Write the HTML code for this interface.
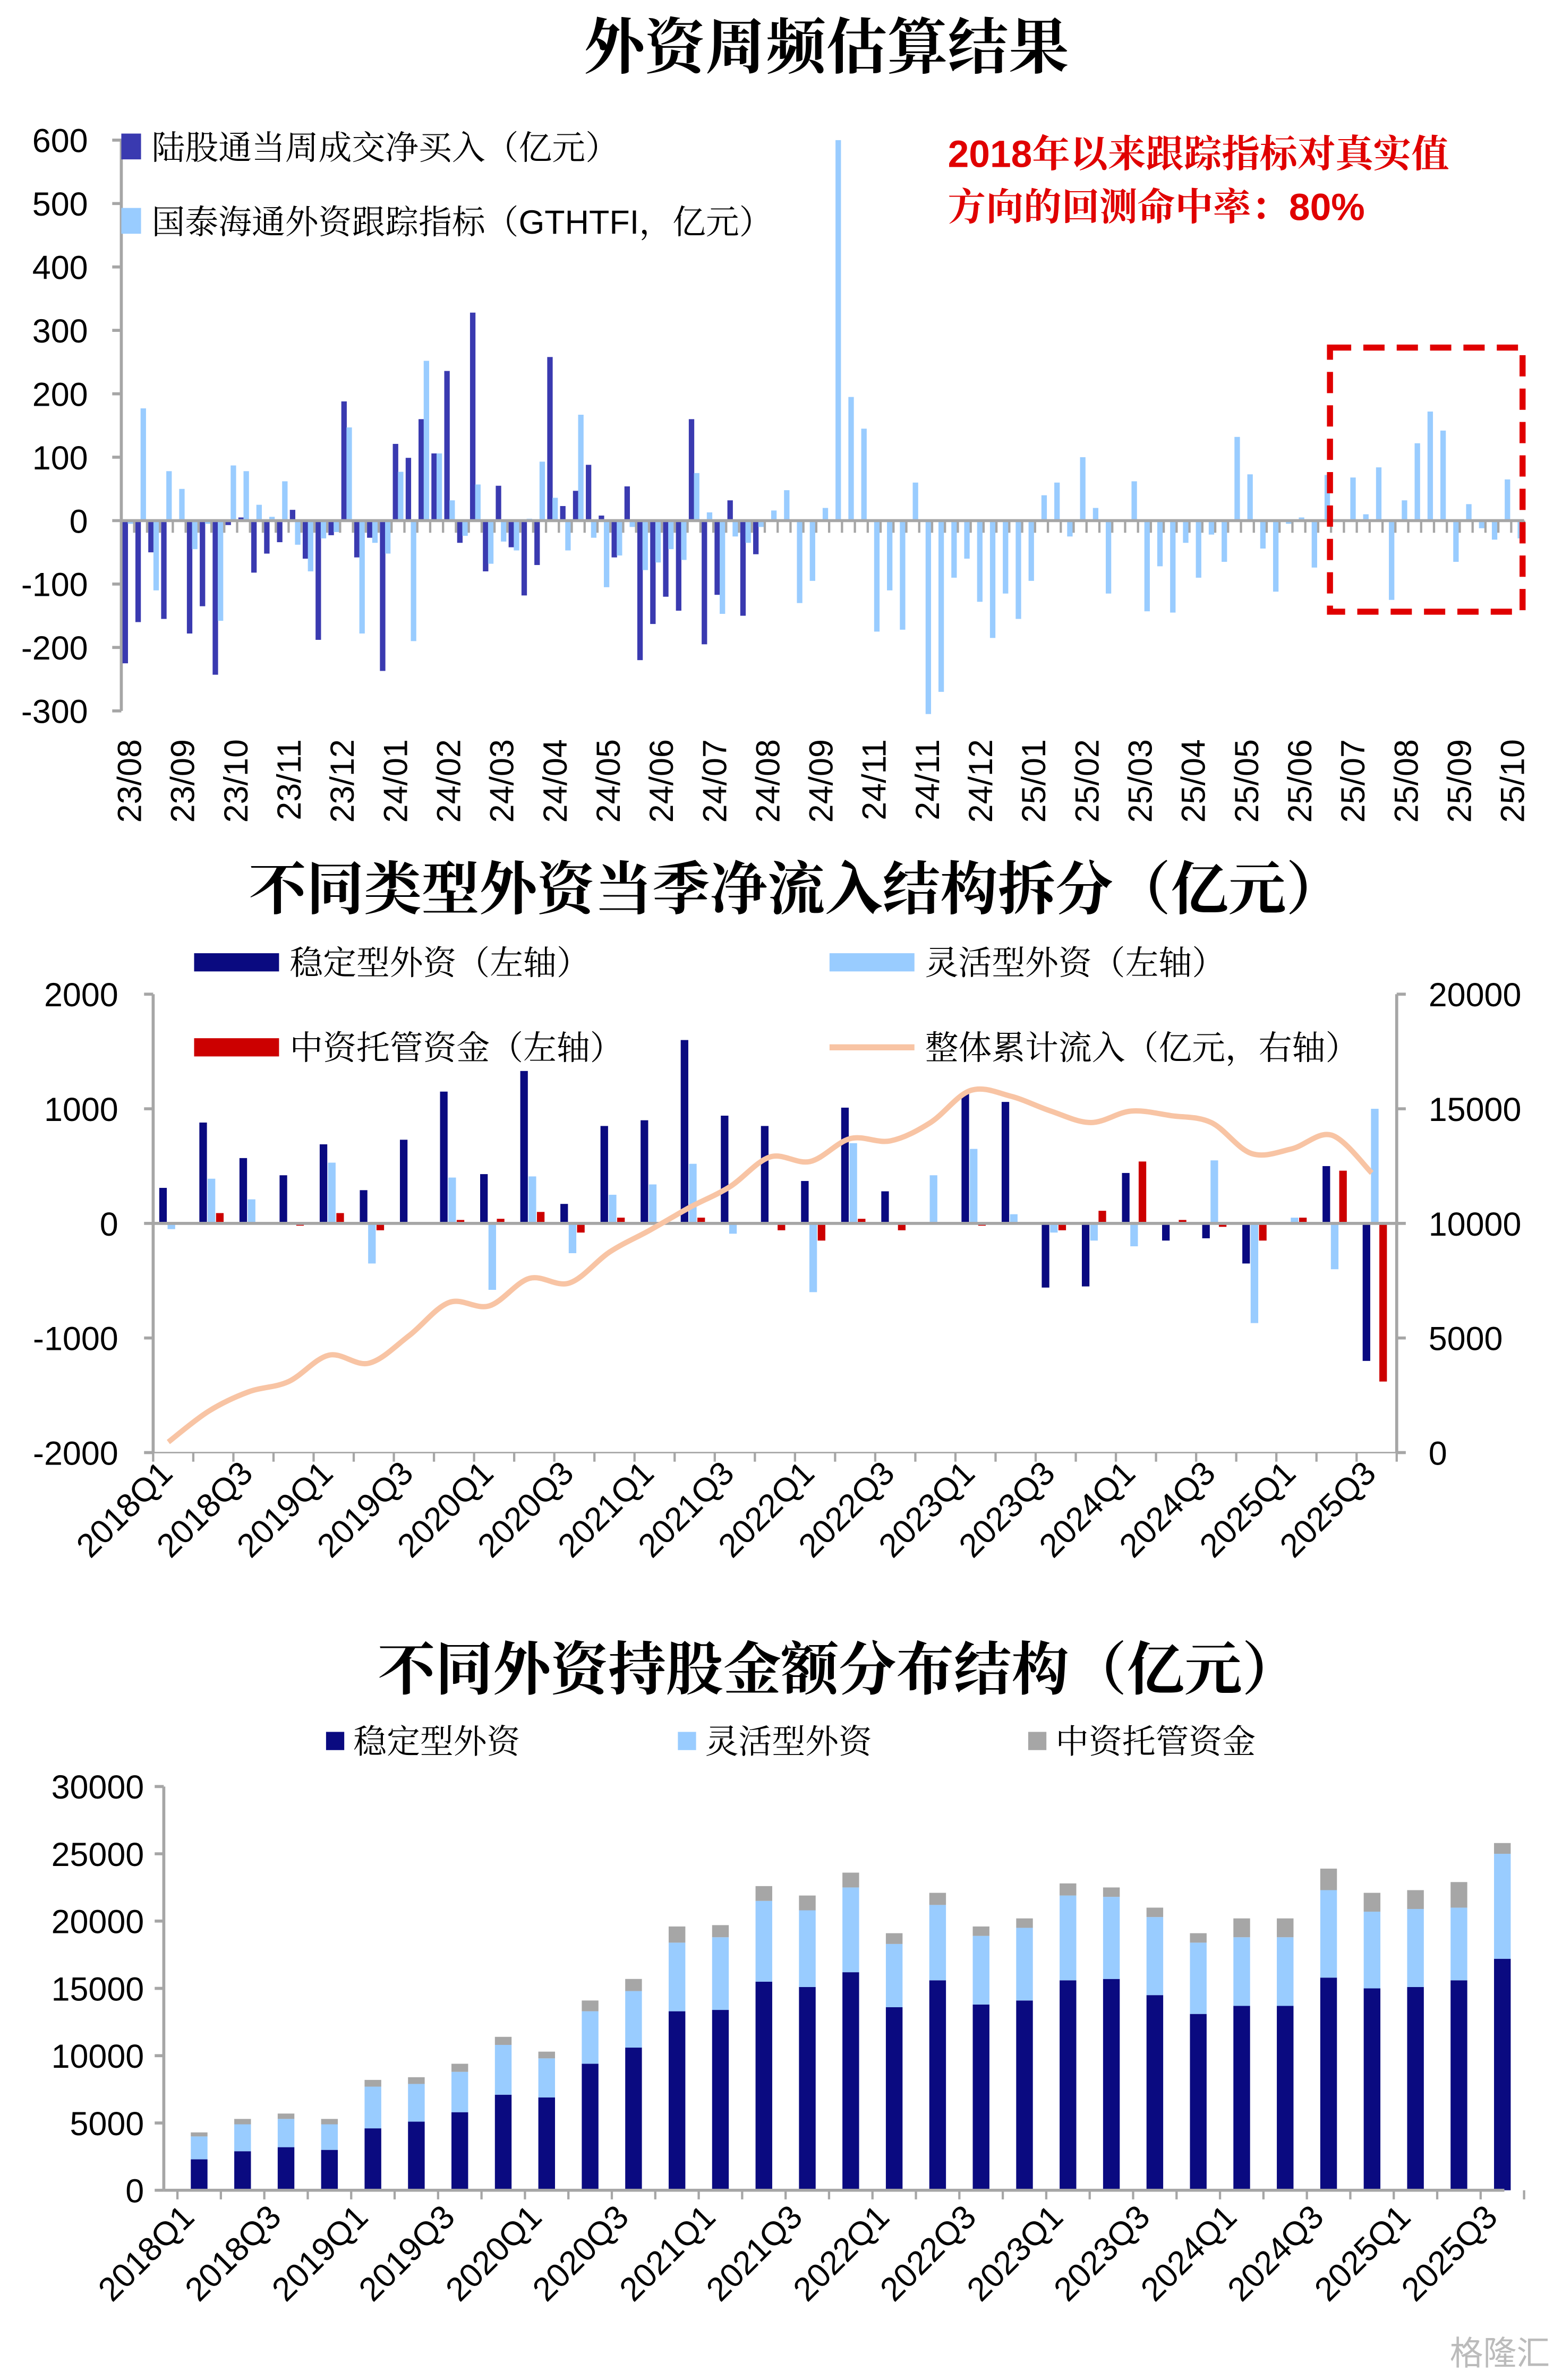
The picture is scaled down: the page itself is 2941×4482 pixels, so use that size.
<!DOCTYPE html>
<html><head><meta charset="utf-8"><style>
html,body{margin:0;padding:0;background:#fff;}
svg{display:block;}
text{font-family:"Liberation Sans","Noto Sans CJK SC",sans-serif;}
.cj{font-family:"Liberation Sans","Noto Serif CJK SC",serif;}
</style></head><body>
<svg id="s" width="2941" height="4482" viewBox="0 0 1030 1568" preserveAspectRatio="none" xmlns="http://www.w3.org/2000/svg">
<rect width="1030" height="1568" fill="#fff"/>
<text class="cj" x="545" y="45" font-size="40" font-weight="bold" text-anchor="middle">外资周频估算结果</text>
<text class="cj" x="525" y="599" font-size="38" font-weight="bold" text-anchor="middle">不同类型外资当季净流入结构拆分（亿元）</text>
<text class="cj" x="553" y="1113" font-size="38" font-weight="bold" text-anchor="middle">不同外资持股金额分布结构（亿元）</text>
<g id="top"></g>
<g id="mid"></g>
<g id="bot"></g>
<text x="1022" y="1558" font-size="22" fill="#bbb" text-anchor="end">格隆汇</text>
</svg>
<script>
// ---------- top chart data ----------
const weekLabels=["23/08","23/09","23/10","23/11","23/12","24/01","24/02","24/03","24/04","24/05","24/06","24/07","24/08","24/09","24/10","24/11","24/11","24/12","25/01","25/02","25/03","25/04","25/05","25/06","25/07","25/08","25/09","25/10"];
const northbound=[-225,-160,-50,-155,0,-178,-135,-243,-7,5,-82,-52,-34,17,-60,-188,-23,188,-58,-27,-237,121,99,160,106,236,-35,328,-80,55,-42,-118,-70,258,23,47,88,8,-58,54,-220,-163,-120,-142,160,-195,-117,32,-150,-53];
const gthtfi=[-5,177,-110,78,50,-45,-5,-158,87,78,25,6,62,-38,-80,-28,-18,147,-178,-35,-52,77,-190,252,106,32,-24,57,-68,-33,-47,3,93,36,-47,167,-27,-105,-55,-10,-78,-66,-45,-62,75,13,-147,-25,-35,-10,
16,48,-130,-95,20,600,195,145,-175,-110,-172,60,-305,-270,-90,-60,-128,-185,-115,-155,-95,40,60,-25,100,20,-115,2,62,-143,-72,-145,-35,-90,-22,-65,132,73,-44,-112,-5,5,-74,72,2,68,10,84,-125,32,122,172,142,-65,26,-12,-30,65,-28];
const topTicks=[600,500,400,300,200,100,0,-100,-200,-300];
// ---------- middle chart data ----------
const quarters=["2018Q1","2018Q2","2018Q3","2018Q4","2019Q1","2019Q2","2019Q3","2019Q4","2020Q1","2020Q2","2020Q3","2020Q4","2021Q1","2021Q2","2021Q3","2021Q4","2022Q1","2022Q2","2022Q3","2022Q4","2023Q1","2023Q2","2023Q3","2023Q4","2024Q1","2024Q2","2024Q3","2024Q4","2025Q1","2025Q2","2025Q3"];
const stableFlow=[310,880,570,420,690,290,730,1150,430,1330,170,850,900,1600,940,850,370,1010,280,0,1130,1060,-560,-550,440,-150,-130,-350,0,500,-1200];
const flexFlow=[-50,390,210,0,530,-350,0,400,-580,410,-260,250,340,520,-90,0,-600,700,0,420,650,80,-80,-150,-200,0,550,-870,50,-400,1000];
const custodyFlow=[0,90,0,-20,90,-60,0,30,40,100,-80,50,0,50,0,-60,-150,40,-60,0,-20,0,-60,110,540,30,-30,-150,50,460,-1380];
const cumFlow=[460,1800,2650,3100,4250,3900,5100,6550,6400,7600,7400,8750,9700,10700,11600,12900,12700,13700,13600,14400,15800,15550,14900,14400,14900,14700,14400,13050,13250,13850,12200];
const midLeftTicks=[2000,1000,0,-1000,-2000];
const midRightTicks=[20000,15000,10000,5000,0];
// ---------- bottom chart data ----------
const stableHold=[2300,2900,3200,3000,4600,5100,5800,7100,6900,9400,10600,13300,13400,15500,15100,16200,13600,15600,13800,14100,15600,15700,14500,13100,13700,13700,15800,15000,15100,15600,17200];
const flexHold=[1700,2000,2100,1900,3100,2800,3000,3700,2900,3900,4200,5100,5400,6000,5700,6300,4700,5600,5100,5400,6300,6100,5800,5300,5100,5100,6500,5700,5800,5400,7800];
const custodyHold=[300,400,400,400,500,500,600,600,500,800,900,1200,900,1100,1100,1100,800,900,700,700,900,700,700,700,1400,1400,1600,1400,1400,1900,800];
const botTicks=[30000,25000,20000,15000,10000,5000,0];

const NS="http://www.w3.org/2000/svg";
function mk(p,tag,a){const e=document.createElementNS(NS,tag);for(const k in a)e.setAttribute(k,a[k]);p.appendChild(e);return e;}
function tx(p,x,y,s,a){const e=mk(p,'text',Object.assign({x:x,y:y},a));e.textContent=s;return e;}

// ===== TOP =====
(function(){
const g=document.getElementById('top');
const x0=80,x1=1005,N=gthtfi.length,step=(x1-x0)/N;
const y=v=>343-v*0.4178;
const bx=i=>x0+i*step;
mk(g,'line',{x1:x0,y1:y(600),x2:x0,y2:y(-300),stroke:'#a6a6a6','stroke-width':2});
topTicks.forEach(t=>{
  const l=mk(g,'line',{x1:x0-6,y1:y(t),x2:x0,y2:y(t),stroke:'#a6a6a6','stroke-width':2});
  
  const e=tx(g,58,y(t)+8,String(t),{'font-size':22,'text-anchor':'end'});
  
});
northbound.forEach((v,i)=>{
  const r=mk(g,'rect',{x:bx(i)+0.8,y:Math.min(y(v),y(0)),width:3.6,height:Math.abs(y(v)-y(0)),fill:'#3a3ab0'});
  
});
gthtfi.forEach((v,i)=>{
  const r=mk(g,'rect',{x:bx(i)+4.2,y:Math.min(y(v),y(0)),width:3.6,height:Math.abs(y(v)-y(0)),fill:'#99ccff'});
  
});
mk(g,'line',{x1:x0,y1:y(0),x2:x1,y2:y(0),stroke:'#a6a6a6','stroke-width':2});
for(let i=0;i<=N;i++){mk(g,'line',{x1:bx(i),y1:y(0),x2:bx(i),y2:y(0)+8,stroke:'#a6a6a6','stroke-width':1.5});}
const labs=weekLabels.filter((_,i)=>i!==14);
labs.forEach((s,i)=>{
  const cx=85+i*(997-85)/(labs.length-1);
  const e=tx(g,0,0,s,{'font-size':22,'text-anchor':'end',transform:`translate(${cx+8},487) rotate(-90)`});
  
});
// legend
let r=mk(g,'rect',{x:80,y:88,width:13,height:17,fill:'#3a3ab0'});
let t=tx(g,100,105,'陆股通当周成交净买入（亿元）',{'font-size':22,class:'cj'});
r=mk(g,'rect',{x:80,y:137,width:13,height:17,fill:'#99ccff'});
t=tx(g,100,154,'国泰海通外资跟踪指标（GTHTFI，亿元）',{'font-size':22,class:'cj'});
t=tx(g,625,110,'2018年以来跟踪指标对真实值',{'font-size':25,'font-weight':'bold',fill:'#e00000',class:'cj'});
t=tx(g,625,145,'方向的回测命中率：80%',{'font-size':25,'font-weight':'bold',fill:'#e00000',class:'cj'});
r=mk(g,'rect',{x:877,y:229,width:127,height:174,fill:'none',stroke:'#e00000','stroke-width':4,'stroke-dasharray':'14,8'});
})();

// ===== MIDDLE =====
(function(){
const g=document.getElementById('mid');
const x0=101,x1=921,N=quarters.length,step=(x1-x0)/N;
const yl=v=>806-v*0.0755;
const yr=v=>957-v*0.0151;
const bx=i=>x0+i*step+4;
mk(g,'line',{x1:x0,y1:655,x2:x0,y2:957,stroke:'#a6a6a6','stroke-width':2});
mk(g,'line',{x1:x1,y1:655,x2:x1,y2:957,stroke:'#a6a6a6','stroke-width':2});
midLeftTicks.forEach(t=>{mk(g,'line',{x1:x0-6,y1:yl(t),x2:x0,y2:yl(t),stroke:'#a6a6a6','stroke-width':2});
  const e=tx(g,78,yl(t)+8,String(t),{'font-size':22,'text-anchor':'end'});});
midRightTicks.forEach(t=>{mk(g,'line',{x1:x1,y1:yr(t),x2:x1+6,y2:yr(t),stroke:'#a6a6a6','stroke-width':2});
  const e=tx(g,942,yr(t)+8,String(t),{'font-size':22});});
const bar=(v,i,off,c,n)=>{const r=mk(g,'rect',{x:bx(i)+off,y:Math.min(yl(v),yl(0)),width:5,height:Math.abs(yl(v)-yl(0)),fill:c});};
stableFlow.forEach((v,i)=>bar(v,i,0,'#0a0a80','stable-flow-bar'));
flexFlow.forEach((v,i)=>bar(v,i,5.5,'#99ccff','flexible-flow-bar'));
custodyFlow.forEach((v,i)=>bar(v,i,11,'#cc0000','custody-flow-bar'));
mk(g,'line',{x1:x0,y1:yl(0),x2:x1,y2:yl(0),stroke:'#a6a6a6','stroke-width':2});
for(let i=0;i<=N;i++)mk(g,'line',{x1:x0+i*step,y1:957,x2:x0+i*step,y2:963,stroke:'#a6a6a6','stroke-width':1.5});
mk(g,'line',{x1:x0,y1:957,x2:x1,y2:957,stroke:'#a6a6a6','stroke-width':1});
const pts=cumFlow.map((v,i)=>[bx(i)+6,yr(v)]);
let d=`M${pts[0][0]},${pts[0][1]}`;
for(let i=0;i<pts.length-1;i++){const p0=pts[Math.max(0,i-1)],p1=pts[i],p2=pts[i+1],p3=pts[Math.min(pts.length-1,i+2)];
 d+=` C${p1[0]+(p2[0]-p0[0])/6},${p1[1]+(p2[1]-p0[1])/6} ${p2[0]-(p3[0]-p1[0])/6},${p2[1]-(p3[1]-p1[1])/6} ${p2[0]},${p2[1]}`;}
const ln=mk(g,'path',{d:d,fill:'none',stroke:'#f8c4a4','stroke-width':3.5});
quarters.forEach((q,i)=>{if(i%2)return;const cx=bx(i)+6;
 const e=tx(g,0,0,q,{'font-size':22,'text-anchor':'end',transform:`translate(${cx+4},972) rotate(-45)`});});
const leg=(x,y,c,s,n,line)=>{let r;if(line){r=mk(g,'line',{x1:x,y1:y,x2:x+56,y2:y,stroke:c,'stroke-width':4});}else{r=mk(g,'rect',{x:x,y:y-6,width:56,height:12,fill:c});}
 
 const t=tx(g,x+63,y+8,s,{'font-size':22,class:'cj'});};
leg(128,634,'#0a0a80','稳定型外资（左轴）','legend-stable');
leg(547,634,'#99ccff','灵活型外资（左轴）','legend-flexible');
leg(128,690,'#cc0000','中资托管资金（左轴）','legend-custody');
leg(547,690,'#f8c4a4','整体累计流入（亿元，右轴）','legend-cumulative',true);
})();

// ===== BOTTOM =====
(function(){
const g=document.getElementById('bot');
const x0=108,xs=117,x1=992,N=quarters.length,step=(1005-xs)/N;
const y=v=>1443-v*0.008867;
mk(g,'line',{x1:x0,y1:y(30000),x2:x0,y2:1443,stroke:'#a6a6a6','stroke-width':2});
botTicks.forEach(t=>{mk(g,'line',{x1:x0-6,y1:y(t),x2:x0,y2:y(t),stroke:'#a6a6a6','stroke-width':2});
 const e=tx(g,95,y(t)+8,String(t),{'font-size':22,'text-anchor':'end'});});
quarters.forEach((q,i)=>{const cx=xs+(i+0.5)*step;
 const a=stableHold[i],b=flexHold[i],c=custodyHold[i];
 let r=mk(g,'rect',{x:cx-5.5,y:y(a),width:11,height:y(0)-y(a),fill:'#0a0a80'});
 r=mk(g,'rect',{x:cx-5.5,y:y(a+b),width:11,height:y(a)-y(a+b),fill:'#99ccff'});
 r=mk(g,'rect',{x:cx-5.5,y:y(a+b+c),width:11,height:y(a+b)-y(a+b+c),fill:'#a6a6a6'});
 if(i%2===0){const e=tx(g,0,0,q,{'font-size':22,'text-anchor':'end',transform:`translate(${cx-2},1462) rotate(-45)`});}
});
mk(g,'line',{x1:x0,y1:1443,x2:x1,y2:1443,stroke:'#a6a6a6','stroke-width':2});
for(let i=0;i<=N;i++)mk(g,'line',{x1:xs+i*step,y1:1443,x2:xs+i*step,y2:1449,stroke:'#a6a6a6','stroke-width':1.5});
const leg=(x,c,s,n)=>{const r=mk(g,'rect',{x:x,y:1141,width:12,height:12,fill:c});
 const t=tx(g,x+18,1155,s,{'font-size':22,class:'cj'});};
leg(215,'#0a0a80','稳定型外资','legend-stable');
leg(447,'#99ccff','灵活型外资','legend-flexible');
leg(678,'#a6a6a6','中资托管资金','legend-custody');
})();
</script>
</body></html>
